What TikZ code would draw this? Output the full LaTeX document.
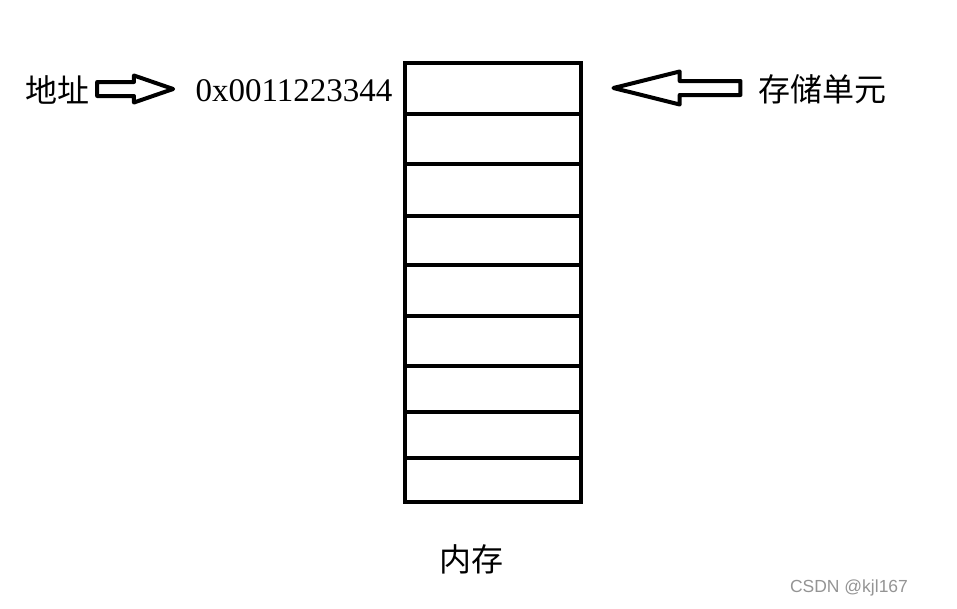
\documentclass[tikz,border=0pt]{standalone}
\usepackage{fontspec}
\setmainfont{Liberation Serif}
\newfontfamily\cjk{Noto Sans CJK SC}
\newfontfamily\wmfont{Liberation Sans}
\usetikzlibrary{shapes.arrows}
\tikzset{>=stealth}

\begin{document}
\begin{tikzpicture}[x=1pt, y=-1pt,
    cell/.style={draw, line width=4pt, minimum width=176pt, inner sep=0pt},
    blockarrow/.style={single arrow, draw, line width=4pt, line join=round, inner sep=0pt, inner ysep=5pt},
    cjklabel/.style={font=\cjk\fontsize{32}{32}\selectfont, inner sep=0pt}]
    \useasboundingbox (0,0) rectangle (957,608);
    % memory cells
    \foreach \a/\b [count=\i] in {63/114, 114/164, 164/216, 216/265, 265/316, 316/366, 366/412, 412/458, 458/502}
        \node [cell, minimum height=\b-\a] (cell\i) at (493, {(\a+\b)/2}) {};
    \node [cjklabel] (addrlabel) at (57,90) {地址};
    \node [blockarrow, minimum height=76pt, single arrow head extend=6.5pt, single arrow tip angle=38] (addrarrow) at (125,89) {};
    \node [font=\fontsize{33}{33}\selectfont, inner sep=0pt] (addr) at (294,91) {0x0011223344};
    \node [blockarrow, minimum height=127pt, single arrow head extend=9.5pt, single arrow tip angle=28, shape border rotate=180] (cellarrow) at (691,88) {};
    \node [cjklabel] (celllabel) at (822,89) {存储单元};
    \node [cjklabel] (memlabel) at (471,559) {内存};
    \node [font=\wmfont\fontsize{17.5}{17.5}\selectfont, text=black!42, inner sep=0pt] (mark) at (849,588) {CSDN @kjl167};
\end{tikzpicture}
\end{document}
